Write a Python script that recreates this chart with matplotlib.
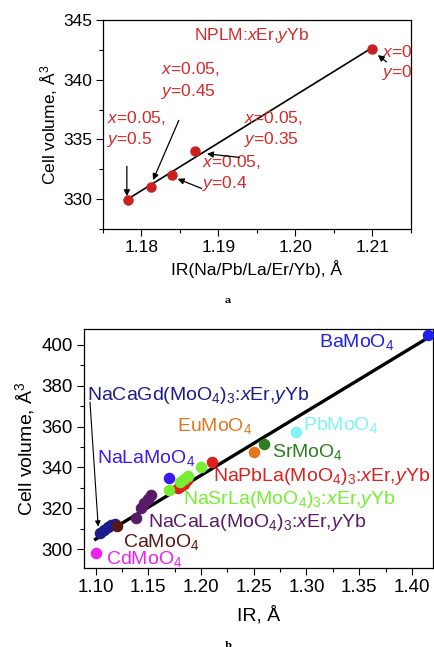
import matplotlib
matplotlib.use("Agg")
import matplotlib.pyplot as plt

plt.rcParams['font.family'] = ['Liberation Sans', 'DejaVu Sans']
plt.rcParams['mathtext.fontset'] = 'custom'
plt.rcParams['mathtext.rm'] = 'Liberation Sans'
plt.rcParams['mathtext.it'] = 'Liberation Sans:italic'
plt.rcParams['font.size'] = 12.5

# ---- panel a data: NPLM:xEr,yYb
ir_a = [1.1782, 1.1812, 1.1840, 1.1870, 1.2100]
vol_a = [329.9, 331.0, 332.0, 334.0, 342.6]
fit_a_x = [1.1782, 1.2100]
fit_a_y = [330.0, 342.7]
lab_a = [r"$\mathit{x}$=0.05," + "\n" + r"$\mathit{y}$=0.5",
         r"$\mathit{x}$=0.05," + "\n" + r"$\mathit{y}$=0.45",
         r"$\mathit{x}$=0.05," + "\n" + r"$\mathit{y}$=0.4",
         r"$\mathit{x}$=0.05," + "\n" + r"$\mathit{y}$=0.35",
         r"$\mathit{x}$=0" + "\n" + r"$\mathit{y}$=0"]
lab_a_xy = [(1.1755, 334.6), (1.1825, 338.65), (1.1879, 330.9), (1.1933, 334.6), (1.2112, 340.2)]
arr_a_from = [(1.1781, 332.75), (1.18485, 336.6), (1.1878, 330.9), (1.1927, 333.5), (1.2118, 341.5)]
arr_a_to = [(1.1781, 330.25), (1.1815, 331.6), (1.1847, 331.7), (1.1885, 333.8), (1.2107, 342.07)]

# ---- panel b data: molybdates
groups = {
    "NaCaGd": ([1.104, 1.108, 1.112, 1.115, 1.118], [308.0, 309.5, 310.8, 311.8, 312.5]),
    "CaMoO4": ([1.120], [311.5]),
    "CdMoO4": ([1.100], [298.0]),
    "NaCaLa": ([1.138, 1.143, 1.146, 1.150, 1.153], [315.3, 320.0, 322.5, 324.5, 326.7]),
    "NaPbLa": ([1.1782, 1.1812, 1.1840, 1.1870, 1.2100], [329.9, 331.0, 332.0, 334.0, 342.6]),
    "NaSrLa": ([1.170, 1.180, 1.184, 1.188, 1.200], [329.0, 333.0, 334.5, 336.0, 340.0]),
    "NaLaMoO4": ([1.170], [335.0]),
    "EuMoO4": ([1.250], [347.7]),
    "SrMoO4": ([1.260], [351.5]),
    "PbMoO4": ([1.290], [357.5]),
    "BaMoO4": ([1.415], [405.0]),
}
colors = {
    "NaCaGd": "#1c1c8c", "CaMoO4": "#5a1515", "CdMoO4": "#ee22ee",
    "NaCaLa": "#5a1a6a", "NaPbLa": "#dd2020", "NaSrLa": "#77ee33",
    "NaLaMoO4": "#3a1aee", "EuMoO4": "#e07820", "SrMoO4": "#2e7d1e",
    "PbMoO4": "#80f4f4", "BaMoO4": "#2020ee",
}
names = {
    "NaCaGd": r"NaCaGd(MoO$_4$)$_3$:$\mathit{x}$Er,$\mathit{y}$Yb",
    "CaMoO4": r"CaMoO$_4$",
    "CdMoO4": r"CdMoO$_4$",
    "NaCaLa": r"NaCaLa(MoO$_4$)$_3$:$\mathit{x}$Er,$\mathit{y}$Yb",
    "NaPbLa": r"NaPbLa(MoO$_4$)$_3$:$\mathit{x}$Er,$\mathit{y}$Yb",
    "NaSrLa": r"NaSrLa(MoO$_4$)$_3$:$\mathit{x}$Er,$\mathit{y}$Yb",
    "NaLaMoO4": r"NaLaMoO$_4$",
    "EuMoO4": r"EuMoO$_4$",
    "SrMoO4": r"SrMoO$_4$",
    "PbMoO4": r"PbMoO$_4$",
    "BaMoO4": r"BaMoO$_4$",
}
label_pos = {
    "NaCaGd": (1.092, 373.0), "CaMoO4": (1.126, 300.8), "CdMoO4": (1.1098, 292.6),
    "NaCaLa": (1.1498, 311.0), "NaPbLa": (1.2113, 333.5), "NaSrLa": (1.183, 322.0),
    "NaLaMoO4": (1.101, 342.0), "EuMoO4": (1.1776, 358.0), "SrMoO4": (1.2675, 345.3),
    "PbMoO4": (1.297, 358.3), "BaMoO4": (1.3116, 399.2),
}
fit_b_x = [1.100, 1.420]
fit_b_y = [304.8, 405.0]

fig = plt.figure(figsize=(4.34, 6.47), dpi=100)

# ---------------- panel a
ax1 = fig.add_axes([0.2373, 0.646, 0.7097, 0.323])
ax1.plot(fit_a_x, fit_a_y, color="black", lw=1.2, zorder=2)
ax1.plot(ir_a, vol_a, "o", color="#cc1f1f", ms=6.5, zorder=3)
for txt, (tx, ty) in zip(lab_a, lab_a_xy):
    ax1.text(tx, ty, txt, color="#d42a2a", ha="left", va="baseline", linespacing=1.25)
for (fx, fy), (hx, hy) in zip(arr_a_from, arr_a_to):
    ax1.annotate("", xy=(hx, hy), xytext=(fx, fy),
                 arrowprops=dict(arrowstyle="-|>", color="black", lw=0.9,
                                 mutation_scale=9, shrinkA=0, shrinkB=0))
ax1.text(1.1868, 343.3, r"NPLM:$\mathit{x}$Er,$\mathit{y}$Yb", color="#d42a2a",
         ha="left", va="baseline")
ax1.set_xlim(1.175, 1.215)
ax1.set_ylim(327.5, 345)
ax1.set_xticks([1.18, 1.19, 1.20, 1.21])
ax1.set_xticklabels(["1.18", "1.19", "1.20", "1.21"])
ax1.set_xticks([1.175 + 0.005 * i for i in range(9)], minor=True)
ax1.set_yticks([330, 335, 340, 345])
ax1.set_yticks([327.5 + 2.5 * i for i in range(8)], minor=True)
ax1.set_xlabel("IR(Na/Pb/La/Er/Yb), Å")
ax1.set_ylabel("Cell volume, Å$^3$")
ax1.xaxis.set_label_coords(0.5, -0.15)
ax1.yaxis.set_label_coords(-0.14, 0.5)
ax1.tick_params(labelsize=12.5)

# ---------------- panel b
ax2 = fig.add_axes([0.1935, 0.1221, 0.8042, 0.3694])
ax2.plot(fit_b_x, fit_b_y, color="black", lw=2.4, zorder=2)
for key, (gx, gy) in groups.items():
    ax2.plot(gx, gy, "o", color=colors[key], ms=7.3, zorder=3, clip_on=False)
    lx, ly = label_pos[key]
    ax2.text(lx, ly, names[key], color=colors[key], ha="left", va="baseline", fontsize=14)
ax2.annotate("", xy=(1.1025, 311.0), xytext=(1.0947, 372.0),
             arrowprops=dict(arrowstyle="-|>", color="black", lw=0.8,
                             mutation_scale=8, shrinkA=0, shrinkB=0))
ax2.set_xlim(1.089, 1.42)
ax2.set_ylim(290.7, 407.8)
ax2.set_xticks([1.10, 1.15, 1.20, 1.25, 1.30, 1.35, 1.40])
ax2.set_xticklabels(["1.10", "1.15", "1.20", "1.25", "1.30", "1.35", "1.40"])
ax2.set_xticks([1.10 + 0.025 * i for i in range(13)], minor=True)
ax2.set_yticks([300, 320, 340, 360, 380, 400])
ax2.set_yticks([300 + 10 * i for i in range(11)], minor=True)
ax2.set_xlabel("IR, Å", fontsize=14)
ax2.set_ylabel("Cell volume, Å$^3$", fontsize=14)
ax2.xaxis.set_label_coords(0.5, -0.16)
ax2.yaxis.set_label_coords(-0.135, 0.5)
ax2.tick_params(labelsize=13.5)

for ax in (ax1, ax2):
    for s in ax.spines.values():
        s.set_linewidth(0.9)
    ax.tick_params(which="both", direction="out", top=False, right=False, width=0.8)
    ax.tick_params(which="major", length=5, pad=3)
    ax.tick_params(which="minor", length=3)

fig.text(0.525, 0.536, "a", ha="center", va="center", fontsize=7,
         family="DejaVu Serif", weight="bold")
fig.text(0.525, 0.003, "b", ha="center", va="center", fontsize=7,
         family="DejaVu Serif", weight="bold")

fig.savefig("out.png", dpi=100)
